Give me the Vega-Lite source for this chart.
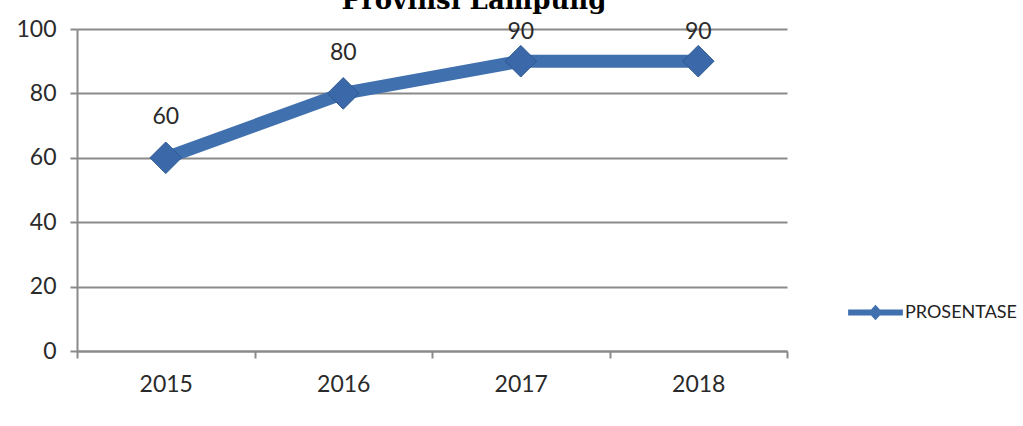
{
  "$schema": "https://vega.github.io/schema/vega-lite/v6.json",
  "width": 710,
  "height": 322,
  "autosize": {"type": "none"},
  "padding": {"left": 77, "top": 29, "right": 236, "bottom": 75},
  "background": "white",
  "title": {
    "text": "Provinsi Lampung",
    "font": "DejaVu Serif",
    "fontSize": 26,
    "fontWeight": "bold",
    "color": "#000000",
    "anchor": "middle",
    "dx": 42,
    "baseline": "alphabetic",
    "offset": -17
  },
  "data": {
    "values": [
      {"tahun": "2015", "nilai": 60, "series": "PROSENTASE"},
      {"tahun": "2016", "nilai": 80, "series": "PROSENTASE"},
      {"tahun": "2017", "nilai": 90, "series": "PROSENTASE"},
      {"tahun": "2018", "nilai": 90, "series": "PROSENTASE"}
    ]
  },
  "encoding": {
    "x": {
      "field": "tahun",
      "type": "ordinal",
      "scale": {"paddingInner": 0, "paddingOuter": 0},
      "axis": {
        "title": null,
        "labelAngle": 0,
        "labelFont": "Lato",
        "labelFontSize": 23,
        "labelColor": "#2a2a2a",
        "labelPadding": 15,
        "tickBand": "extent",
        "tickSize": 7,
        "tickColor": "#8a8a8a",
        "tickWidth": 2,
        "domainColor": "#8a8a8a",
        "domainWidth": 2,
        "grid": false
      }
    }
  },
  "layer": [
    {
      "layer": [
        {
          "mark": {"type": "line", "strokeWidth": 13, "strokeCap": "round", "strokeJoin": "round"},
          "encoding": {
            "color": {
              "field": "series",
              "type": "nominal",
              "scale": {"range": ["#4170AE"]},
              "legend": {
                "title": null,
                "orient": "none",
                "legendX": 771,
                "legendY": 256,
                "symbolType": "M-1,-0.11L-0.16,-0.11L0,-0.28L0.16,-0.11L1,-0.11L1,0.11L0.16,0.11L0,0.28L-0.16,0.11L-1,0.11Z",
                "symbolSize": 3000,
                "symbolFillColor": "#4170AE",
                "symbolStrokeWidth": 0,
                "labelFont": "Lato",
                "labelFontSize": 18,
                "labelColor": "#222222",
                "labelOffset": 2
              }
            }
          }
        },
        {
          "mark": {"type": "point", "shape": "diamond", "filled": true, "size": 1000, "color": "#3A68A8", "stroke": "#2E5A92", "strokeWidth": 1, "opacity": 1}
        }
      ],
      "encoding": {
        "y": {
          "field": "nilai",
          "type": "quantitative",
          "scale": {"domain": [0, 100], "nice": false},
          "axis": {
            "title": null,
            "values": [0, 20, 40, 60, 80, 100],
            "labelFont": "Lato",
            "labelFontSize": 23,
            "labelColor": "#2a2a2a",
            "labelPadding": 14,
            "tickSize": 7,
            "tickColor": "#8a8a8a",
            "tickWidth": 2,
            "domainColor": "#8a8a8a",
            "domainWidth": 2,
            "grid": true,
            "gridColor": "#8a8a8a",
            "gridWidth": 2
          }
        }
      }
    },
    {
      "mark": {"type": "text", "dy": 3, "font": "Lato", "fontSize": 23, "color": "#2a2a2a", "baseline": "middle"},
      "encoding": {
        "y": {
          "field": "nilai",
          "type": "quantitative",
          "scale": {"domain": [-13.5, 86.5], "nice": false, "zero": false, "clamp": true},
          "axis": null
        },
        "text": {"field": "nilai", "type": "quantitative"}
      }
    }
  ],
  "resolve": {"scale": {"y": "independent"}},
  "config": {
    "view": {"stroke": null}
  }
}
